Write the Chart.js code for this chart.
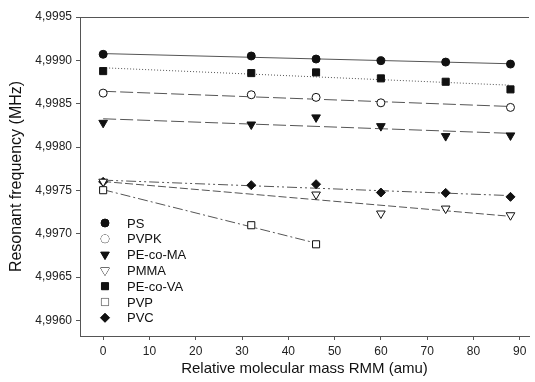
<!DOCTYPE html>
<html lang="en">
<head>
<meta charset="UTF-8">
<title>Resonant frequency vs RMM</title>
<script src="https://cdn.jsdelivr.net/npm/chart.js"></script>
<style>
  body { margin: 0; background: #fff; }
  #wrap { width: 535px; height: 382px; }
</style>
</head>
<body>
<div id="wrap"><canvas id="chart" width="535" height="382"></canvas></div>
<script>
// data (x = RMM in amu, y = frequency in MHz)
var psX = [0, 32, 46, 60, 74, 88];
var psY = [4.99907, 4.99905, 4.999015, 4.998996, 4.99898, 4.998957];
var pvpkX = [0, 32, 46, 60, 88];
var pvpkY = [4.998622, 4.998603, 4.998573, 4.99851, 4.998457];
var pecomaX = [0, 32, 46, 60, 74, 88];
var pecomaY = [4.998279, 4.99826, 4.998342, 4.998241, 4.998126, 4.998134];
var pmmaX = [0, 46, 60, 74, 88];
var pmmaY = [4.9976, 4.997452, 4.997233, 4.99729, 4.997213];
var pecovaX = [0, 32, 46, 60, 74, 88];
var pecovaY = [4.998876, 4.998853, 4.998861, 4.998792, 4.998753, 4.998665];
var pvpX = [0, 32, 46];
var pvpY = [4.997502, 4.997098, 4.996878];
var pvcX = [0, 32, 46, 60, 74, 88];
var pvcY = [4.997598, 4.99756, 4.997571, 4.997475, 4.997471, 4.997425];

var xTicks = [0, 10, 20, 30, 40, 50, 60, 70, 80, 90];
var yTicks = [4.9960, 4.9965, 4.9970, 4.9975, 4.9980, 4.9985, 4.9990, 4.9995];

// series: label, x, y, marker, fill, rotation, radius, dash
var series = [
  ['PS', psX, psY, 'circle', '#111', 0, 4, []],
  ['PVPK', pvpkX, pvpkY, 'circle', '#fff', 0, 4, [13, 4]],
  ['PE-co-MA', pecomaX, pecomaY, 'triangle', '#111', 180, 5, [13, 4]],
  ['PMMA', pmmaX, pmmaY, 'triangle', '#fff', 180, 5, [8, 3]],
  ['PE-co-VA', pecovaX, pecovaY, 'rect', '#111', 0, 5, [1, 2]],
  ['PVP', pvpX, pvpY, 'rect', '#fff', 0, 5, [10, 3, 2, 3]],
  ['PVC', pvcX, pvcY, 'rectRot', '#111', 0, 4.5, [10, 3, 2, 3, 2, 3]]
];

// least squares line over the measured range
function fitLine(xs, ys) {
  var n = xs.length, sx = 0, sy = 0, sxx = 0, sxy = 0;
  for (var i = 0; i < n; i++) {
    sx += xs[i]; sy += ys[i]; sxx += xs[i] * xs[i]; sxy += xs[i] * ys[i];
  }
  var b = (n * sxy - sx * sy) / (n * sxx - sx * sx);
  var a = (sy - b * sx) / n;
  var x0 = Math.min.apply(null, xs), x1 = Math.max.apply(null, xs);
  return [{x: x0, y: a + b * x0}, {x: x1, y: a + b * x1}];
}

var datasets = [];
series.forEach(function (s) {
  datasets.push({
    type: 'line',
    label: s[0] + ' fit',
    data: fitLine(s[1], s[2]),
    borderColor: '#555',
    borderWidth: 1,
    borderDash: s[7],
    pointRadius: 0,
    fill: false,
    order: 2
  });
});
series.forEach(function (s) {
  datasets.push({
    type: 'scatter',
    label: s[0],
    data: s[1].map(function (x, i) { return {x: x, y: s[2][i]}; }),
    pointStyle: s[3],
    pointRotation: s[5],
    pointRadius: s[6],
    pointBackgroundColor: s[4],
    pointBorderColor: '#111',
    pointBorderWidth: 1,
    showLine: false,
    order: 1
  });
});

// top frame line and in-plot legend
var framePlugin = {
  id: 'frame',
  afterDraw: function (chart) {
    var ctx = chart.ctx, a = chart.chartArea;
    ctx.save();
    ctx.strokeStyle = '#555';
    ctx.lineWidth = 1;
    ctx.beginPath();
    ctx.moveTo(a.left, a.top + 0.5);
    ctx.lineTo(a.right, a.top + 0.5);
    ctx.stroke();

    ctx.font = '13px "Liberation Sans", Arial, sans-serif';
    ctx.fillStyle = '#111';
    ctx.textBaseline = 'middle';
    series.forEach(function (s, i) {
      var y = 223 + i * 15.8;
      ctx.fillStyle = s[4];
      ctx.strokeStyle = '#111';
      Chart.helpers.drawPoint(ctx, {pointStyle: s[3], rotation: s[5], radius: s[6], borderWidth: 1}, 105, y);
      ctx.fill();
      ctx.fillStyle = '#111';
      ctx.fillText(s[0], 127, y + 1);
    });
    ctx.restore();
  }
};

var tickFont = {family: '"Liberation Sans", Arial, sans-serif', size: 12};
var titleFont = {family: '"Liberation Sans", Arial, sans-serif', size: 15};
var yTitleFont = {family: '"Liberation Sans", Arial, sans-serif', size: 16};

new Chart(document.getElementById('chart'), {
  type: 'scatter',
  data: {datasets: datasets},
  plugins: [framePlugin],
  options: {
    responsive: false,
    animation: false,
    layout: {padding: {top: 17, right: 0, left: 3, bottom: 0}},
    plugins: {legend: {display: false}, tooltip: {enabled: false}},
    scales: {
      x: {
        type: 'linear',
        min: -5,
        max: 92,
        afterBuildTicks: function (scale) {
          scale.ticks = xTicks.map(function (v) { return {value: v}; });
        },
        afterFit: function (scale) { scale.height = 46; },
        grid: {display: true, drawOnChartArea: false, drawTicks: true, tickLength: 4, tickColor: '#555'},
        border: {display: true, color: '#555', width: 1},
        ticks: {color: '#222', font: tickFont, padding: 4, maxRotation: 0},
        title: {display: true, text: 'Relative molecular mass RMM (amu)', color: '#111', font: titleFont, padding: {top: 2}}
      },
      y: {
        type: 'linear',
        min: 4.99582,
        max: 4.9995,
        afterBuildTicks: function (scale) {
          scale.ticks = yTicks.map(function (v) { return {value: v}; });
        },
        afterFit: function (scale) { scale.width = 77; },
        grid: {display: true, drawOnChartArea: false, drawTicks: true, tickLength: 4, tickColor: '#555'},
        border: {display: true, color: '#555', width: 1},
        ticks: {
          color: '#222', font: tickFont, padding: 4,
          callback: function (v) { return v.toFixed(4).replace('.', ','); }
        },
        title: {display: true, text: 'Resonant frequency (MHz)', color: '#111', font: yTitleFont, padding: {bottom: 2}}
      }
    }
  }
});
</script>
</body>
</html>
